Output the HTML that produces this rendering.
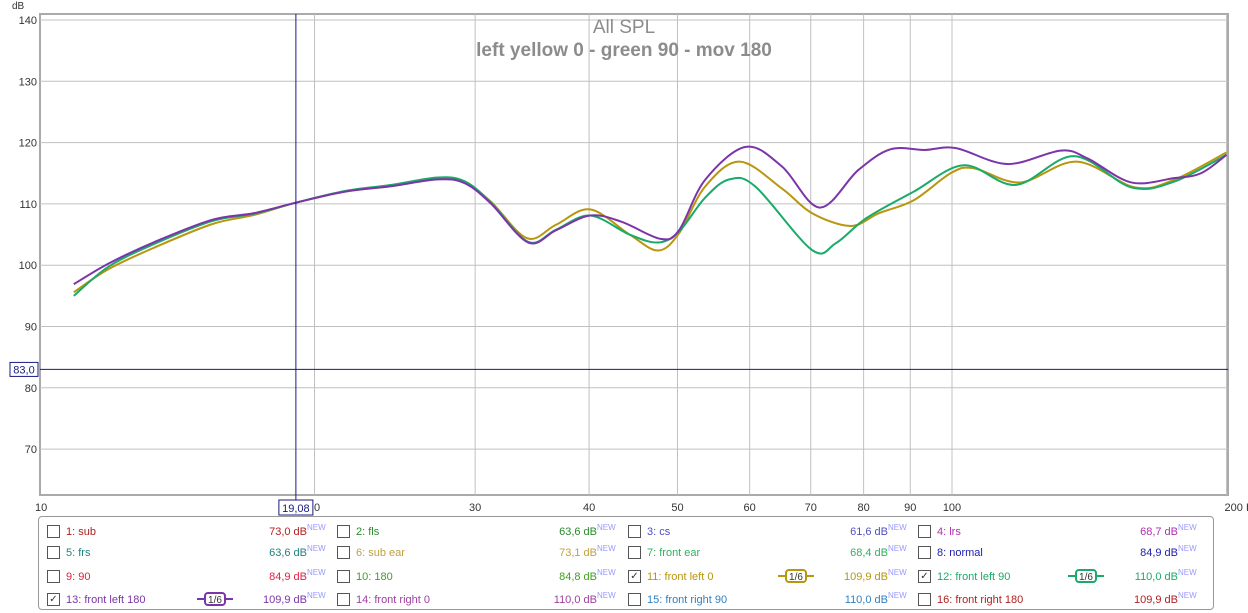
<!DOCTYPE html>
<html><head><meta charset="utf-8"><style>
body{margin:0;background:#fff;font-family:"Liberation Sans",sans-serif;}
#wrap{position:relative;width:1248px;height:613px;overflow:hidden;}
.leg{position:absolute;left:38px;top:516px;width:1176px;height:94px;border:1px solid #999;border-radius:4px;box-sizing:border-box;}
.it{position:absolute;height:16px;font-size:11px;line-height:16px;}
.cb{position:absolute;left:0;top:1px;width:11px;height:11px;border:1px solid #555;background:#fff;font-size:10px;line-height:11px;text-align:center;color:#333}
.lb{position:absolute;left:19px;white-space:nowrap}
.vl{position:absolute;right:20px;white-space:nowrap;text-align:right}
.nw{position:absolute;right:-8px;top:-4px;font-size:8px;color:#99f;width:28px;text-align:left;left:auto}
.sm{position:absolute;top:0;width:36px;height:14px}
</style></head><body>
<div id="wrap">
<svg id="svg" width="1248" height="516" style="position:absolute;left:0;top:0"></svg>
<div class="leg" id="leg"></div>
</div>
<script>
const freqP=[10.89,11.9,13.36,15.44,17.17,19.08,21.6,24.3,27.3,29.2,31.2,34.3,36.8,40.1,43.4,47.9,50.2,53.6,59.4,65.1,71.6,78.9,85.6,93.4,101,115,131.6,140.9,157.2,175.1,187.5,200];
const dbP=[96.9,100.3,103.8,107.4,108.5,110.2,112.0,112.9,114.0,113.4,110.1,103.7,105.7,108.1,107.1,104.3,105.7,113.9,119.3,116.1,109.4,115.5,118.9,118.8,119.1,116.5,118.7,117.4,113.5,114.2,115.0,118.0];
const freqY=[10.89,11.9,13.36,15.44,17.17,19.08,21.6,24.3,27.3,29.2,31.2,34.2,36.8,40.1,44.3,47.6,50.2,53.6,58.5,65.1,70.2,77.4,83.2,90.8,99.9,105.8,118.8,137,158.6,175,200];
const dbY=[95.6,99.4,102.9,106.7,108.2,110.2,112.0,112.9,114.1,113.5,110.4,104.4,106.6,109.1,105.0,102.4,105.2,112.8,116.9,112.5,108.5,106.4,108.5,110.6,115.1,115.8,113.5,116.9,112.7,113.9,118.4];
const freqG=[10.89,11.9,13.36,15.44,17.17,19.08,21.6,24.3,27.3,29.2,31.2,34.3,36.8,40.1,44.3,47.6,50.2,53.6,57.0,60.9,70.2,74.6,80.6,90.8,103,117.5,136,157.2,175,200];
const dbG=[95.0,99.8,103.5,107.2,108.4,110.2,112.1,113.1,114.3,113.7,110.3,103.8,105.8,108.1,105.0,103.7,105.5,111.0,114.0,112.8,102.5,103.6,107.7,112.0,116.3,113.1,117.8,112.7,113.6,118.0];
const yTicks=[70,80,90,100,110,120,130,140];
const xGrid=[20,30,40,50,60,70,80,90,100,200];
const xLabels=["10","30","40","50","60","70","80","90","100","200 Hz"];
const xLabelF=[10,30,40,50,60,70,80,90,100,200];
const X=f=>40+912*Math.log10(f/10);
const Y=d=>20+(140-d)*6.13;
const NS="http://www.w3.org/2000/svg";
const svg=document.getElementById('svg');
function mk(t,a,p){const e=document.createElementNS(NS,t);for(const k in a)e.setAttribute(k,a[k]);(p||svg).appendChild(e);return e;}
let bg=mk('rect',{x:40,y:14,width:1188,height:481,fill:'#fff',stroke:'#aaa','stroke-width':2});


yTicks.forEach(v=>{
 let l=mk('line',{x1:40,x2:1228,y1:Y(v),y2:Y(v),stroke:'#c0c0c0','stroke-width':1});
 
 
 let t=mk('text',{x:37,y:Y(v)+4,'text-anchor':'end','font-size':11,fill:'#333'});t.textContent=v;
 
 
});
xGrid.forEach(f=>{
 let l=mk('line',{x1:X(f),x2:X(f),y1:14,y2:495,stroke:'#c0c0c0','stroke-width':1});
 
 
});
xLabelF.forEach((f,i)=>{
 let t=mk('text',{x:f==200?X(f)-2:X(f),y:511,'text-anchor':f==10?'start':(f==200?'start':'middle'),'font-size':11,fill:'#333'});t.textContent=xLabels[i];
 if(f==10)t.setAttribute('x',35);
 
 
});
let t20=mk('text',{x:314,y:511,'font-size':11,fill:'#333'});t20.textContent='0';


let dbl=mk('text',{x:12,y:9,'font-size':10,fill:'#333'});dbl.textContent='dB';


let t1=mk('text',{x:624,y:33,'text-anchor':'middle','font-size':19,fill:'#8c8c8c'});t1.textContent='All SPL';


let t2=mk('text',{x:624,y:56,'text-anchor':'middle','font-size':19,'font-weight':'bold',fill:'#8c8c8c'});t2.textContent='left yellow 0 - green 90 - mov 180';


function path(fs,ds){
 const p=fs.map((f,i)=>[X(f),Y(ds[i])]);let d='M'+p[0][0]+','+p[0][1];
 for(let i=0;i<p.length-1;i++){const a=p[Math.max(0,i-1)],b=p[i],c=p[i+1],e=p[Math.min(p.length-1,i+2)];
  d+=' C'+(b[0]+(c[0]-a[0])/6)+','+(b[1]+(c[1]-a[1])/6)+' '+(c[0]-(e[0]-b[0])/6)+','+(c[1]-(e[1]-b[1])/6)+' '+c[0]+','+c[1];}
 return d;}
let cy=mk('path',{d:path(freqY,dbY),fill:'none',stroke:'#b8960e','stroke-width':2});


let cg=mk('path',{d:path(freqG,dbG),fill:'none',stroke:'#1aaa6a','stroke-width':2});


let cp=mk('path',{d:path(freqP,dbP),fill:'none',stroke:'#7b35a8','stroke-width':2});


let hl=mk('line',{x1:40,x2:1228,y1:Y(83),y2:Y(83),stroke:'#1a1a80','stroke-width':1});


let vl=mk('line',{x1:X(19.08),x2:X(19.08),y1:14,y2:500,stroke:'#1a1a80','stroke-width':1});


let hb=mk('rect',{x:10,y:Y(83)-7,width:28,height:14,fill:'#fff',stroke:'#1a1a80'});


let ht=mk('text',{x:24,y:Y(83)+4,'text-anchor':'middle','font-size':11,fill:'#1a1a80'});ht.textContent='83,0';


let vb=mk('rect',{x:X(19.08)-17,y:500,width:34,height:15,fill:'#fff',stroke:'#1a1a80'});


let vt=mk('text',{x:X(19.08),y:512,'text-anchor':'middle','font-size':11,fill:'#1a1a80'});vt.textContent='19,08';


const items=[["1: sub","73,0 dB","#b02020",0],["2: fls","63,6 dB","#2a8a2a",0],["3: cs","61,6 dB","#5050c0",0],["4: lrs","68,7 dB","#b030b0",0],
["5: frs","63,6 dB","#208080",0],["6: sub ear","73,1 dB","#c0a040",0],["7: front ear","68,4 dB","#30b060",0],["8: normal","84,9 dB","#2020b0",0],
["9: 90","84,9 dB","#e02040",0],["10: 180","84,8 dB","#40a020",0],["11: front left 0","109,9 dB","#b8960e",1],["12: front left 90","110,0 dB","#1aaa6a",1],
["13: front left 180","109,9 dB","#7b35a8",1],["14: front right 0","110,0 dB","#a040a0",0],["15: front right 90","110,0 dB","#3080c0",0],["16: front right 180","109,9 dB","#b02020",0]];
const leg=document.getElementById('leg');const rows=[7,28,52,75];const cols=[8,298,589,879];
items.forEach((it,i)=>{const d=document.createElement('div');d.className='it';
 d.style.left=cols[i%4]+'px';d.style.top=rows[Math.floor(i/4)]+'px';d.style.width='280px';
 
 
 d.innerHTML='<div class="cb">'+(it[3]?'✓':'')+'</div><span class="lb" style="color:'+it[2]+'">'+it[0]+'</span><span class="vl" style="color:'+it[2]+'">'+it[1]+'<span style="position:absolute;left:100%;top:-4px;font-size:8px;color:#99f">NEW</span></span>'+
 (it[3]?'<svg class="sm" style="left:150px"><line x1="0" y1="7" x2="36" y2="7" stroke="'+it[2]+'" stroke-width="2"/><rect x="8" y="1" width="20" height="12" rx="3" fill="#fff" stroke="'+it[2]+'" stroke-width="2"/><text x="18" y="11" text-anchor="middle" font-size="10" fill="#333">1/6</text></svg>':'');
 leg.appendChild(d);});
</script>
</body></html>
